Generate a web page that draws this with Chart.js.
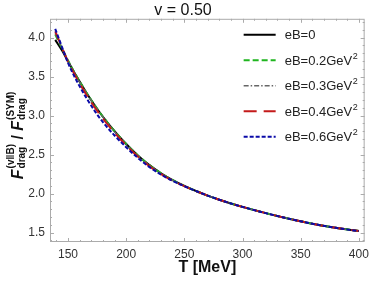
<!DOCTYPE html>
<html>
<head>
<meta charset="utf-8">
<script src="https://cdn.jsdelivr.net/npm/chart.js@4.4.1/dist/chart.umd.min.js"></script>
<style>
  html, body { margin: 0; padding: 0; background: #fff; }
  #wrap { width: 374px; height: 284px; }
</style>
</head>
<body>
<div id="wrap"><canvas id="drag-ratio-chart" width="374" height="284"></canvas></div>
<script>
// temperature samples (MeV)
var temps = [139, 145, 150, 155, 160, 165, 170, 175, 180, 190, 200, 210, 220, 230, 240, 250, 260, 270, 280, 290, 300, 320, 340, 360, 380, 400];

var eB0  = [3.97, 3.83, 3.695, 3.562, 3.435, 3.312, 3.196, 3.087, 2.985, 2.80, 2.635, 2.49, 2.365, 2.26, 2.172, 2.098, 2.033, 1.975, 1.922, 1.874, 1.83, 1.75, 1.678, 1.614, 1.562, 1.52];
var eB02 = [4.04, 3.855, 3.705, 3.565, 3.435, 3.312, 3.196, 3.087, 2.985, 2.80, 2.635, 2.49, 2.365, 2.26, 2.172, 2.098, 2.033, 1.975, 1.922, 1.874, 1.83, 1.75, 1.678, 1.614, 1.562, 1.52];
var eB03 = [4.06, 3.86, 3.70, 3.56, 3.43, 3.307, 3.191, 3.082, 2.98, 2.795, 2.63, 2.486, 2.362, 2.258, 2.171, 2.098, 2.033, 1.975, 1.922, 1.874, 1.83, 1.75, 1.678, 1.614, 1.562, 1.52];
var eB04 = [4.08, 3.865, 3.69, 3.545, 3.41, 3.285, 3.17, 3.062, 2.96, 2.78, 2.617, 2.475, 2.352, 2.25, 2.165, 2.096, 2.033, 1.975, 1.922, 1.874, 1.83, 1.75, 1.678, 1.614, 1.562, 1.52];
var eB06 = [4.11, 3.87, 3.675, 3.515, 3.375, 3.245, 3.125, 3.015, 2.915, 2.745, 2.595, 2.458, 2.34, 2.243, 2.163, 2.095, 2.033, 1.975, 1.922, 1.874, 1.83, 1.75, 1.678, 1.614, 1.562, 1.52];

var seriesLabels = ['eB=0', 'eB=0.2GeV²', 'eB=0.3GeV²', 'eB=0.4GeV²', 'eB=0.6GeV²'];
var seriesValues = [eB0, eB02, eB03, eB04, eB06];

var xTicks = [150, 200, 250, 300, 350, 400];
var yTicks = [1.5, 2.0, 2.5, 3.0, 3.5, 4.0];

var colors = ['#000000', '#1fb51f', '#666666', '#c41a1a', '#0a0aa8'];
var dashes = [[], [6, 3], [5, 2, 1.5, 2], [13, 7], [4, 2]];
var widths = [2, 2, 1.4, 2, 2];

var FONT = '"Liberation Sans", Arial, sans-serif';

var datasets = seriesValues.map(function (vals, i) {
    return {
        label: seriesLabels[i],
        data: vals.map(function (v, k) { return {x: temps[k], y: v}; }),
        borderColor: colors[i],
        borderDash: dashes[i],
        borderWidth: widths[i],
        pointRadius: 0,
        fill: false,
        cubicInterpolationMode: 'monotone',
        order: seriesValues.length - i
    };
});

// frame, inward ticks and minor ticks like the original
var framePlugin = {
    id: 'frame',
    afterDatasetsDraw: function (chart) {
        var ctx = chart.ctx, a = chart.chartArea;
        var xs = chart.scales.x, ys = chart.scales.y;
        ctx.save();
        ctx.strokeStyle = '#ababab';
        ctx.lineWidth = 1;
        ctx.strokeRect(a.left + 0.5, a.top + 0.5, a.right - a.left - 1, a.bottom - a.top - 1);
        ctx.beginPath();
        var t, px, len;
        for (t = 140; t <= 405; t += 10) {
            px = Math.round(xs.getPixelForValue(t)) + 0.5;
            len = (t % 50 === 0) ? 4 : 2;
            ctx.moveTo(px, a.bottom); ctx.lineTo(px, a.bottom - len);
            ctx.moveTo(px, a.top); ctx.lineTo(px, a.top + len);
        }
        for (var k = 14; k <= 42; k++) {
            t = k / 10;
            px = Math.round(ys.getPixelForValue(t)) + 0.5;
            len = (k % 5 === 0) ? 4 : 2;
            ctx.moveTo(a.left, px); ctx.lineTo(a.left + len, px);
            ctx.moveTo(a.right, px); ctx.lineTo(a.right - len, px);
        }
        ctx.stroke();
        ctx.restore();
    },
    afterDraw: function (chart) {
        var ctx = chart.ctx, a = chart.chartArea;
        // legend inside the plot, top right
        ctx.save();
        chart.data.datasets.forEach(function (ds, i) {
            var y = a.top + 16 + i * 25.5;
            var x0 = a.right - 121, x1 = a.right - 89;
            ctx.strokeStyle = ds.borderColor;
            ctx.lineWidth = ds.borderWidth;
            ctx.setLineDash(ds.borderDash);
            ctx.beginPath();
            ctx.moveTo(x0, y); ctx.lineTo(x1, y);
            ctx.stroke();
            ctx.setLineDash([]);
            var txt = ds.label, sup = '';
            if (txt.slice(-1) === '²') { sup = '2'; txt = txt.slice(0, -1); }
            ctx.fillStyle = '#222';
            ctx.textBaseline = 'middle';
            ctx.textAlign = 'left';
            ctx.font = '13px ' + FONT;
            ctx.fillText(txt, a.right - 80, y + 1);
            if (sup) {
                var w = ctx.measureText(txt).width;
                ctx.font = '9px ' + FONT;
                ctx.fillText(sup, a.right - 80 + w + 0.5, y - 4);
            }
        });
        ctx.restore();

        // rotated y title with sub/superscripts
        ctx.save();
        ctx.translate(0, (a.top + a.bottom) / 2 + 5);
        ctx.rotate(-Math.PI / 2);
        ctx.fillStyle = '#111';
        ctx.textBaseline = 'alphabetic';
        ctx.textAlign = 'left';
        var big = 'italic bold 16px ' + FONT, slash = 'bold 16px ' + FONT, small = 'bold 10px ' + FONT;
        var parts = [
            {f: big, t: 'F'},
            {sup: '(v\u2016B)', sub: 'drag'},
            {f: slash, t: ' / '},
            {f: big, t: 'F'},
            {sup: '(SYM)', sub: 'drag'}
        ];
        var total = 0;
        parts.forEach(function (p) {
            if (p.t) { ctx.font = p.f; p.w = ctx.measureText(p.t).width; }
            else { ctx.font = small; p.w = Math.max(ctx.measureText(p.sup).width, ctx.measureText(p.sub).width) + 1; }
            total += p.w;
        });
        var x = -total / 2;
        var base = 23;
        parts.forEach(function (p) {
            if (p.t) { ctx.font = p.f; ctx.fillText(p.t, x, base); }
            else {
                ctx.font = small;
                ctx.fillText(p.sup, x + 1, base - 9);
                ctx.fillText(p.sub, x + 1, base + 2);
            }
            x += p.w;
        });
        ctx.restore();
    }
};

var ctx = document.getElementById('drag-ratio-chart').getContext('2d');
var chart = new Chart(ctx, {
    type: 'line',
    data: {
        datasets: datasets
    },
    options: {
        responsive: false,
        animation: false,
        events: [],
        layout: {
            padding: {left: 0, right: 8, top: 0, bottom: 0}
        },
        plugins: {
            legend: {display: false},
            tooltip: {enabled: false},
            title: {
                display: true,
                text: 'v = 0.50',
                color: '#111',
                font: {family: FONT, size: 16, weight: 'normal', lineHeight: 1.05},
                padding: {top: 2, bottom: 0}
            }
        },
        scales: {
            x: {
                type: 'linear',
                min: 134.5,
                max: 405,
                grid: {display: false, drawTicks: false},
                border: {display: false},
                afterBuildTicks: function (scale) {
                    scale.ticks = xTicks.map(function (v) { return {value: v}; });
                },
                afterFit: function (scale) { scale.height = 42; },
                ticks: {
                    color: '#333',
                    padding: 5,
                    maxRotation: 0,
                    font: {family: FONT, size: 12},
                    callback: function (v) { return String(v); }
                },
                title: {
                    display: true,
                    text: 'T [MeV]',
                    color: '#111',
                    font: {family: FONT, size: 16, weight: 'bold'},
                    padding: {top: 0, bottom: 7}
                }
            },
            y: {
                type: 'linear',
                min: 1.38,
                max: 4.24,
                grid: {display: false, drawTicks: false},
                border: {display: false},
                afterBuildTicks: function (scale) {
                    scale.ticks = yTicks.map(function (v) { return {value: v}; });
                },
                afterFit: function (scale) { scale.width = 50; },
                ticks: {
                    color: '#333',
                    padding: 5,
                    font: {family: FONT, size: 12},
                    callback: function (v) { return v.toFixed(1); }
                }
            }
        }
    },
    plugins: [framePlugin]
});
</script>
</body>
</html>
